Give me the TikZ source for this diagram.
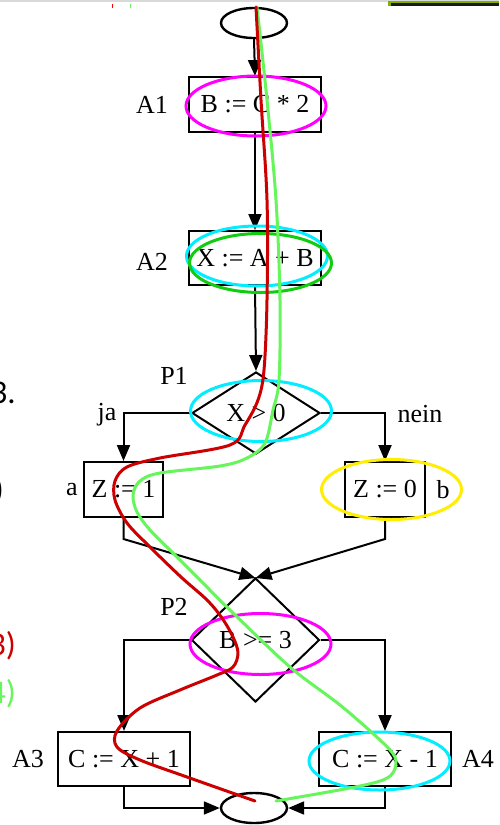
\documentclass[tikz,border=0pt]{standalone}
\usepackage{fontspec}
\setmainfont{Liberation Serif}
\newfontfamily\slidefont{Carlito}
\usetikzlibrary{arrows.meta,shapes.geometric}
\definecolor{hlmag}{HTML}{FF00FF}
\definecolor{hlcyan}{HTML}{00EEFF}
\definecolor{hlgreen}{HTML}{11CC11}
\definecolor{hlyellow}{HTML}{FFEE00}
\definecolor{pathred}{HTML}{CC0000}
\definecolor{pathgreen}{HTML}{66F55A}
\definecolor{barGreen}{HTML}{7FB000}
\tikzset{
  flow/.style={draw=black, line width=2pt},
  tip/.style={-{Triangle[length=16pt,width=13pt]}},
  box/.style={flow, rectangle, inner sep=0pt, minimum height=55pt, font=\fontsize{26}{26}\selectfont},
  dia/.style={flow, diamond, inner sep=0pt, font=\fontsize{26}{26}\selectfont},
  term/.style={flow, line width=2.4pt, ellipse, inner sep=0pt, minimum width=66pt, minimum height=30pt},
  lbl/.style={inner sep=0pt, font=\fontsize{26}{26}\selectfont},
  hl/.style={draw=#1, line width=3pt, ellipse, inner sep=0pt, fill=none},
  trace/.style={line width=3pt, line cap=round, line join=round}
}
\begin{document}
\begin{tikzpicture}[x=1pt,y=-1pt]
\fill[white] (0,0) rectangle (499,825);
\useasboundingbox (0,0) rectangle (499,825);
\clip (0,0) rectangle (499,825);
% top window artefacts
\fill[black!15] (0,0) rectangle (499,1.5);
\fill[barGreen] (388,1.2) rectangle (499,6);
\fill[black!90] (391,3.4) rectangle (499,6);
\fill[red] (111.5,4) rectangle (112.8,8);
\fill[pathgreen] (129.5,4) rectangle (130.8,8);
% cropped slide text
\node[anchor=base east, inner sep=0pt, font=\slidefont\fontsize{33}{33}\selectfont] (t3) at (16,403) {3.};
\node[anchor=base east, inner sep=0pt, font=\slidefont\fontsize{33}{33}\selectfont] (tp) at (4,500) {)};
\node[anchor=base east, inner sep=0pt, text=pathred, font=\slidefont\fontsize{33}{33}\selectfont] (t3r) at (16,655) {3)};
\node[anchor=base east, inner sep=0pt, text=pathgreen, font=\slidefont\fontsize{33}{33}\selectfont] (t4g) at (16,703) {4)};
% flowchart nodes
\node[term] (s) at (254,23) {};
\node[box, minimum width=132pt] (A1) at (255,104.5) {B := C * 2};
\node[box, minimum width=132pt, minimum height=54pt] (A2) at (255,258) {X := A + B};
\node[dia, minimum width=128pt, minimum height=82pt] (P1) at (256,413) {X > 0};
\node[box, minimum width=79pt] (a) at (123.5,489.5) {Z := 1};
\node[box, minimum width=80pt] (b) at (385,489.5) {Z := 0};
\node[dia, minimum width=128pt, minimum height=124pt] (P2) at (255.5,640) {B >= 3};
\node[box, minimum width=132pt, minimum height=54pt] (A3) at (124,759) {C := X + 1};
\node[box, minimum width=132pt, minimum height=54pt] (A4) at (385,759) {C := X - 1};
\node[term] (e) at (254,808) {};
% labels
\node[lbl] (lA1) at (152,105) {A1};
\node[lbl] (lA2) at (152,262) {A2};
\node[lbl] (lP1) at (174,376) {P1};
\node[lbl] (lja) at (107,415) {ja};
\node[lbl] (lnein) at (420,414) {nein};
\node[lbl] (la) at (72,490) {a};
\node[lbl] (lb) at (443,490) {b};
\node[lbl] (lP2) at (174,607) {P2};
\node[lbl] (lA3) at (28,759) {A3};
\node[lbl] (lA4) at (478,759) {A4};
% helper coordinates
\coordinate (aj) at (123.5,539);
\coordinate (bj) at (385,539);
\coordinate (m) at (255.5,578);
% connectors
\draw[flow,tip] (s.south) -- (A1.north);
\draw[flow,tip] (A1.south) -- (A2.north);
\draw[flow,tip] (A2.south) -- (P1.north);
\draw[flow,tip] (P1.west) -| (a.north);
\draw[flow,tip] (P1.east) -| (b.north);
\draw[flow,tip] (a.south) -- (aj) -- (m);
\draw[flow,tip] (b.south) -- (bj) -- (m);
\draw[flow,tip] (P2.west) -| (A3.north);
\draw[flow,tip] (P2.east) -| (A4.north);
\draw[flow,tip] (A3.south) |- (e.west);
\draw[flow,tip] (A4.south) |- (e.east);
% highlight ellipses
\node[hl=hlmag, minimum width=140pt, minimum height=60pt] (hA1) at (256,106) {};
\node[hl=hlcyan, minimum width=141pt, minimum height=60pt] (hA2) at (257,256) {};
\node[hl=hlgreen, minimum width=142pt, minimum height=59pt] (gA2) at (260.5,263) {};
\node[hl=hlcyan, minimum width=141pt, minimum height=61pt] (hP1) at (261,411) {};
\node[hl=hlyellow, minimum width=140pt, minimum height=60pt] (hb) at (391.5,489.5) {};
\node[hl=hlmag, minimum width=141pt, minimum height=61pt] (hP2) at (260.5,644) {};
\node[hl=hlcyan, minimum width=141pt, minimum height=58pt] (hA4) at (379.5,761) {};
% paths
\draw[trace, pathgreen] plot[smooth, tension=0.55] coordinates {
 (257,7) (267,100) (276,200) (280,300) (279,380) (273,410) (265,443) (247,458)
 (220,466) (160,473) (140,481) (133,495) (137,512) (150,530) (173,553) (200,580)
 (230,610) (290,667) (340,705) (380,740) (395,757) (394,771) (383,780) (350,788) (276,801)};
\draw[trace, pathred] plot[smooth, tension=0.55] coordinates {
 (256,7) (261,100) (267,200) (267,300) (264,370) (258,400) (245,425) (230,445)
 (160,458) (127,467) (115,481) (115,500) (127,523) (150,547) (181,577) (207,600)
 (222,618) (233,637) (238,653) (233,667) (217,675) (180,690) (140,708) (117,731)
 (117,747) (140,760) (187,777) (255,801)};
\end{tikzpicture}
\end{document}
